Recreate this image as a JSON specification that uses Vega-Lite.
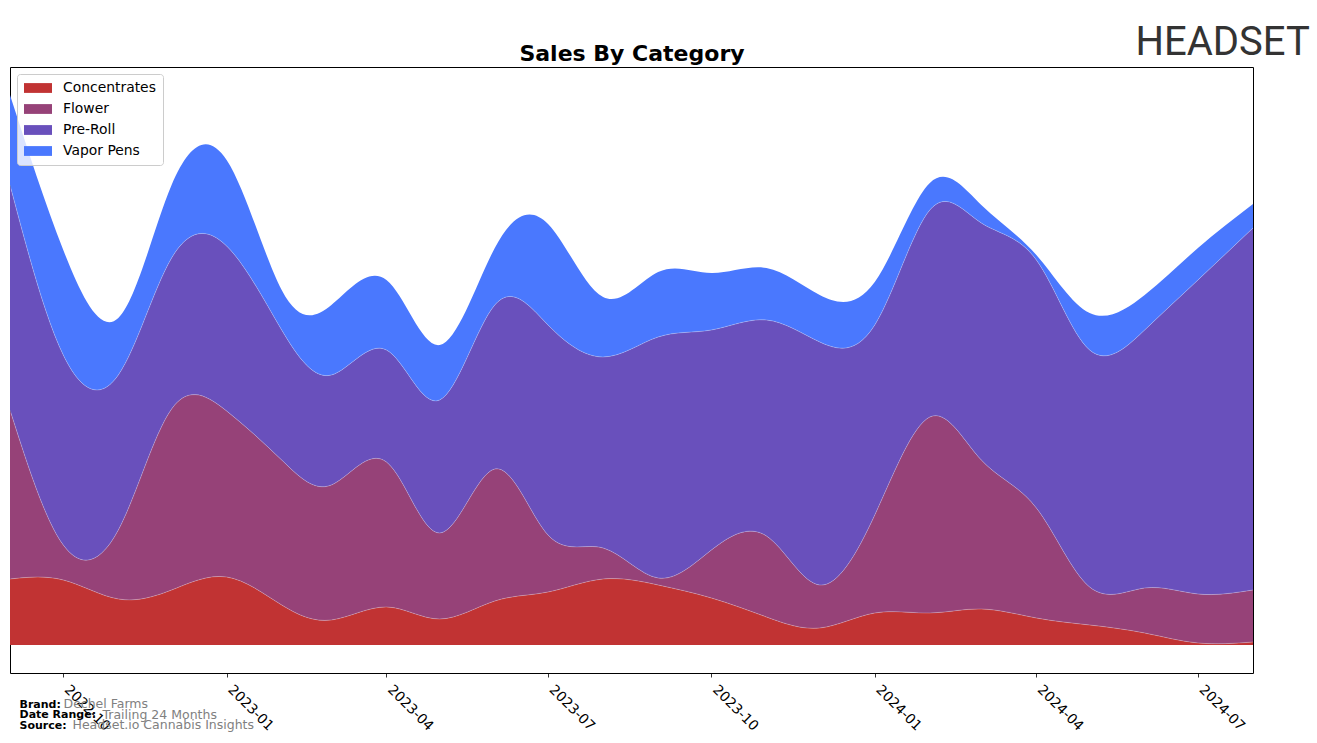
{
  "$schema": "https://vega.github.io/schema/vega-lite/v6.json",
  "width": 1243,
  "height": 606,
  "autosize": {"type": "none"},
  "padding": {"left": 10, "top": 67, "right": 64, "bottom": 70},
  "background": "white",
  "config": {
    "font": "DejaVu Sans",
    "view": {"stroke": "black", "strokeWidth": 1},
    "axis": {"grid": false}
  },
  "data": {
    "values": [
      {"month": "2022-09-01T00:00:00", "category": "Concentrates", "sales": 66},
      {"month": "2022-10-01T00:00:00", "category": "Concentrates", "sales": 65},
      {"month": "2022-11-01T00:00:00", "category": "Concentrates", "sales": 46},
      {"month": "2022-12-01T00:00:00", "category": "Concentrates", "sales": 55},
      {"month": "2023-01-01T00:00:00", "category": "Concentrates", "sales": 68},
      {"month": "2023-02-01T00:00:00", "category": "Concentrates", "sales": 40},
      {"month": "2023-03-01T00:00:00", "category": "Concentrates", "sales": 25},
      {"month": "2023-04-01T00:00:00", "category": "Concentrates", "sales": 38},
      {"month": "2023-05-01T00:00:00", "category": "Concentrates", "sales": 26},
      {"month": "2023-06-01T00:00:00", "category": "Concentrates", "sales": 44},
      {"month": "2023-07-01T00:00:00", "category": "Concentrates", "sales": 53},
      {"month": "2023-08-01T00:00:00", "category": "Concentrates", "sales": 66},
      {"month": "2023-09-01T00:00:00", "category": "Concentrates", "sales": 60},
      {"month": "2023-10-01T00:00:00", "category": "Concentrates", "sales": 47},
      {"month": "2023-11-01T00:00:00", "category": "Concentrates", "sales": 28},
      {"month": "2023-12-01T00:00:00", "category": "Concentrates", "sales": 17},
      {"month": "2024-01-01T00:00:00", "category": "Concentrates", "sales": 32},
      {"month": "2024-02-01T00:00:00", "category": "Concentrates", "sales": 32},
      {"month": "2024-03-01T00:00:00", "category": "Concentrates", "sales": 36},
      {"month": "2024-04-01T00:00:00", "category": "Concentrates", "sales": 27},
      {"month": "2024-05-01T00:00:00", "category": "Concentrates", "sales": 20},
      {"month": "2024-06-01T00:00:00", "category": "Concentrates", "sales": 12},
      {"month": "2024-07-01T00:00:00", "category": "Concentrates", "sales": 2},
      {"month": "2024-08-01T00:00:00", "category": "Concentrates", "sales": 3},
      {"month": "2022-09-01T00:00:00", "category": "Flower", "sales": 169},
      {"month": "2022-10-01T00:00:00", "category": "Flower", "sales": 35},
      {"month": "2022-11-01T00:00:00", "category": "Flower", "sales": 69},
      {"month": "2022-12-01T00:00:00", "category": "Flower", "sales": 181},
      {"month": "2023-01-01T00:00:00", "category": "Flower", "sales": 166},
      {"month": "2023-02-01T00:00:00", "category": "Flower", "sales": 145},
      {"month": "2023-03-01T00:00:00", "category": "Flower", "sales": 135},
      {"month": "2023-04-01T00:00:00", "category": "Flower", "sales": 145},
      {"month": "2023-05-01T00:00:00", "category": "Flower", "sales": 86},
      {"month": "2023-06-01T00:00:00", "category": "Flower", "sales": 132},
      {"month": "2023-07-01T00:00:00", "category": "Flower", "sales": 57},
      {"month": "2023-08-01T00:00:00", "category": "Flower", "sales": 31},
      {"month": "2023-09-01T00:00:00", "category": "Flower", "sales": 7},
      {"month": "2023-10-01T00:00:00", "category": "Flower", "sales": 48},
      {"month": "2023-11-01T00:00:00", "category": "Flower", "sales": 81},
      {"month": "2023-12-01T00:00:00", "category": "Flower", "sales": 43},
      {"month": "2024-01-01T00:00:00", "category": "Flower", "sales": 98},
      {"month": "2024-02-01T00:00:00", "category": "Flower", "sales": 196},
      {"month": "2024-03-01T00:00:00", "category": "Flower", "sales": 149},
      {"month": "2024-04-01T00:00:00", "category": "Flower", "sales": 110},
      {"month": "2024-05-01T00:00:00", "category": "Flower", "sales": 38},
      {"month": "2024-06-01T00:00:00", "category": "Flower", "sales": 45},
      {"month": "2024-07-01T00:00:00", "category": "Flower", "sales": 49},
      {"month": "2024-08-01T00:00:00", "category": "Flower", "sales": 52},
      {"month": "2022-09-01T00:00:00", "category": "Pre-Roll", "sales": 225},
      {"month": "2022-10-01T00:00:00", "category": "Pre-Roll", "sales": 190},
      {"month": "2022-11-01T00:00:00", "category": "Pre-Roll", "sales": 155},
      {"month": "2022-12-01T00:00:00", "category": "Pre-Roll", "sales": 151},
      {"month": "2023-01-01T00:00:00", "category": "Pre-Roll", "sales": 165},
      {"month": "2023-02-01T00:00:00", "category": "Pre-Roll", "sales": 130},
      {"month": "2023-03-01T00:00:00", "category": "Pre-Roll", "sales": 110},
      {"month": "2023-04-01T00:00:00", "category": "Pre-Roll", "sales": 112},
      {"month": "2023-05-01T00:00:00", "category": "Pre-Roll", "sales": 133},
      {"month": "2023-06-01T00:00:00", "category": "Pre-Roll", "sales": 164},
      {"month": "2023-07-01T00:00:00", "category": "Pre-Roll", "sales": 210},
      {"month": "2023-08-01T00:00:00", "category": "Pre-Roll", "sales": 191},
      {"month": "2023-09-01T00:00:00", "category": "Pre-Roll", "sales": 241},
      {"month": "2023-10-01T00:00:00", "category": "Pre-Roll", "sales": 220},
      {"month": "2023-11-01T00:00:00", "category": "Pre-Roll", "sales": 216},
      {"month": "2023-12-01T00:00:00", "category": "Pre-Roll", "sales": 243},
      {"month": "2024-01-01T00:00:00", "category": "Pre-Roll", "sales": 190},
      {"month": "2024-02-01T00:00:00", "category": "Pre-Roll", "sales": 207},
      {"month": "2024-03-01T00:00:00", "category": "Pre-Roll", "sales": 237},
      {"month": "2024-04-01T00:00:00", "category": "Pre-Roll", "sales": 248},
      {"month": "2024-05-01T00:00:00", "category": "Pre-Roll", "sales": 237},
      {"month": "2024-06-01T00:00:00", "category": "Pre-Roll", "sales": 258},
      {"month": "2024-07-01T00:00:00", "category": "Pre-Roll", "sales": 314},
      {"month": "2024-08-01T00:00:00", "category": "Pre-Roll", "sales": 362},
      {"month": "2022-09-01T00:00:00", "category": "Vapor Pens", "sales": 90},
      {"month": "2022-10-01T00:00:00", "category": "Vapor Pens", "sales": 105},
      {"month": "2022-11-01T00:00:00", "category": "Vapor Pens", "sales": 57},
      {"month": "2022-12-01T00:00:00", "category": "Vapor Pens", "sales": 73},
      {"month": "2023-01-01T00:00:00", "category": "Vapor Pens", "sales": 86},
      {"month": "2023-02-01T00:00:00", "category": "Vapor Pens", "sales": 40},
      {"month": "2023-03-01T00:00:00", "category": "Vapor Pens", "sales": 70},
      {"month": "2023-04-01T00:00:00", "category": "Vapor Pens", "sales": 70},
      {"month": "2023-05-01T00:00:00", "category": "Vapor Pens", "sales": 55},
      {"month": "2023-06-01T00:00:00", "category": "Vapor Pens", "sales": 57},
      {"month": "2023-07-01T00:00:00", "category": "Vapor Pens", "sales": 101},
      {"month": "2023-08-01T00:00:00", "category": "Vapor Pens", "sales": 60},
      {"month": "2023-09-01T00:00:00", "category": "Vapor Pens", "sales": 65},
      {"month": "2023-10-01T00:00:00", "category": "Vapor Pens", "sales": 57},
      {"month": "2023-11-01T00:00:00", "category": "Vapor Pens", "sales": 52},
      {"month": "2023-12-01T00:00:00", "category": "Vapor Pens", "sales": 47},
      {"month": "2024-01-01T00:00:00", "category": "Vapor Pens", "sales": 43},
      {"month": "2024-02-01T00:00:00", "category": "Vapor Pens", "sales": 27},
      {"month": "2024-03-01T00:00:00", "category": "Vapor Pens", "sales": 18},
      {"month": "2024-04-01T00:00:00", "category": "Vapor Pens", "sales": 5},
      {"month": "2024-05-01T00:00:00", "category": "Vapor Pens", "sales": 37},
      {"month": "2024-06-01T00:00:00", "category": "Vapor Pens", "sales": 35},
      {"month": "2024-07-01T00:00:00", "category": "Vapor Pens", "sales": 32},
      {"month": "2024-08-01T00:00:00", "category": "Vapor Pens", "sales": 24}
    ]
  },
  "transform": [
    {"stack": "sales", "groupby": ["month"], "sort": [{"field": "category", "order": "ascending"}], "as": ["y0", "y1"]}
  ],
  "layer": [
    {
      "mark": {"type": "area", "interpolate": "natural"},
      "encoding": {
        "x": {
          "field": "month", "type": "temporal",
          "scale": {"domain": [{"year": 2022, "month": 9, "date": 1}, {"year": 2024, "month": 8, "date": 1}], "nice": false},
          "axis": {
            "orient": "bottom",
            "values": [
              {"year": 2022, "month": 10, "date": 1}, {"year": 2023, "month": 1, "date": 1},
              {"year": 2023, "month": 4, "date": 1}, {"year": 2023, "month": 7, "date": 1},
              {"year": 2023, "month": 10, "date": 1}, {"year": 2024, "month": 1, "date": 1},
              {"year": 2024, "month": 4, "date": 1}, {"year": 2024, "month": 7, "date": 1}
            ],
            "format": "%Y-%m",
            "domain": false,
            "ticks": true, "tickColor": "black", "tickSize": 4, "tickWidth": 0.8,
            "labelAngle": 45, "labelAlign": "left", "labelBaseline": "alphabetic",
            "labelFont": "DejaVu Sans", "labelFontSize": 13.9, "labelColor": "black",
            "labelPadding": 13, "labelOverlap": false, "labelFlush": false,
            "title": ["Brand:", "Date Range:", "Source:"],
            "titleX": 9, "titleY": 34, "titleAngle": 0, "titleAlign": "left", "titleBaseline": "alphabetic",
            "titleFont": "DejaVu Sans", "titleFontSize": 11, "titleFontWeight": "bold", "titleColor": "black",
            "titleLineHeight": 10.5
          }
        },
        "y": {
          "field": "y1", "type": "quantitative",
          "scale": {"domain": [-28, 578], "nice": false, "zero": false},
          "axis": {
            "orient": "left",
            "labels": false, "ticks": false, "domain": false, "grid": false,
            "title": "Dechel Farms",
            "titleX": 53, "titleY": 640, "titleAngle": 0, "titleAlign": "left", "titleBaseline": "alphabetic",
            "titleFont": "DejaVu Sans", "titleFontSize": 12.5, "titleFontWeight": "normal", "titleColor": "#808080"
          }
        },
        "y2": {"field": "y0"},
        "color": {
          "field": "category", "type": "nominal",
          "scale": {"domain": ["Concentrates", "Flower", "Pre-Roll", "Vapor Pens"], "range": ["#C13333", "#964278", "#6950BC", "#4A78FE"]},
          "legend": {
            "orient": "top-left", "offset": 7, "title": null,
            "symbolType": "M-1,-0.7H3V0.7H-1Z", "symbolSize": 196, "symbolStrokeWidth": 0, "symbolOpacity": 1,
            "labelFont": "DejaVu Sans", "labelFontSize": 13.9, "labelColor": "black", "labelOffset": 25,
            "rowPadding": 7, "padding": 7,
            "strokeColor": "#cccccc", "fillColor": "rgba(255,255,255,0.8)", "cornerRadius": 3
          }
        }
      }
    },
    {
      "transform": [{"filter": {"field": "category", "oneOf": ["Concentrates", "Flower"]}}],
      "mark": {"type": "line", "interpolate": "natural", "color": "white", "strokeWidth": 0.8, "opacity": 0.3},
      "encoding": {
        "x": {
          "field": "month", "type": "temporal",
          "axis": {
            "orient": "top", "labels": false, "ticks": false, "domain": false, "grid": false,
            "title": "Sales By Category",
            "titleX": 621.5, "titleY": -7, "titleAngle": 0, "titleAlign": "center", "titleBaseline": "alphabetic",
            "titleFont": "DejaVu Sans", "titleFontSize": 22, "titleFontWeight": "bold", "titleColor": "black"
          }
        },
        "y": {
          "field": "y1", "type": "quantitative",
          "axis": {
            "orient": "left",
            "labels": false, "ticks": false, "domain": false, "grid": false,
            "title": "Trailing 24 Months",
            "titleX": 92, "titleY": 651, "titleAngle": 0, "titleAlign": "left", "titleBaseline": "alphabetic",
            "titleFont": "DejaVu Sans", "titleFontSize": 12.5, "titleFontWeight": "normal", "titleColor": "#808080"
          }
        },
        "detail": {"field": "category", "type": "nominal"}
      }
    },
    {
      "transform": [{"filter": {"field": "category", "equal": "Pre-Roll"}}],
      "mark": {"type": "line", "interpolate": "natural", "color": "white", "strokeWidth": 0.8, "opacity": 0.3},
      "encoding": {
        "x": {
          "field": "month", "type": "temporal",
          "axis": {
            "orient": "top", "labels": false, "ticks": false, "domain": false, "grid": false,
            "title": "HEADSET",
            "titleX": 1125, "titleY": -13, "titleAngle": 0, "titleAlign": "left", "titleBaseline": "alphabetic",
            "titleFont": "Roboto", "titleFontSize": 40, "titleFontWeight": "normal", "titleColor": "#333333"
          }
        },
        "y": {
          "field": "y1", "type": "quantitative",
          "axis": {
            "orient": "left",
            "labels": false, "ticks": false, "domain": false, "grid": false,
            "title": "Headset.io Cannabis Insights",
            "titleX": 62, "titleY": 661, "titleAngle": 0, "titleAlign": "left", "titleBaseline": "alphabetic",
            "titleFont": "DejaVu Sans", "titleFontSize": 12.5, "titleFontWeight": "normal", "titleColor": "#808080"
          }
        }
      }
    }
  ],
  "resolve": {"axis": {"x": "independent", "y": "independent"}}
}
